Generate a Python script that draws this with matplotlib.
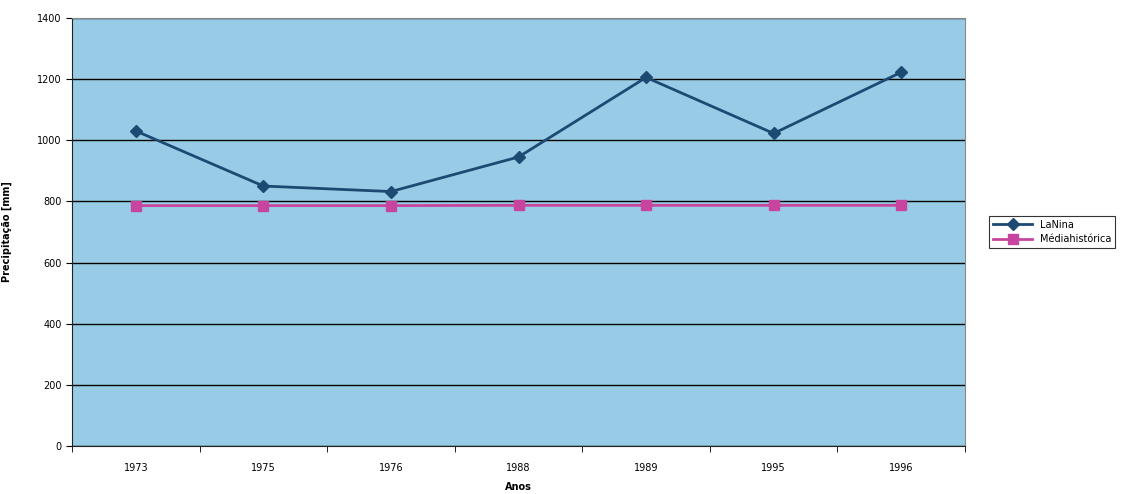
import matplotlib.pyplot as plt
import numpy as np

years = ['1973', '1975', '1976', '1988', '1989', '1995', '1996']
la_nina = [1030, 850, 832, 945, 1205, 1022, 1222]
media = [786, 786, 786, 787, 787, 787, 787]
yticks = [0, 200, 400, 600, 800, 1000, 1200, 1400]

fig = plt.figure(figsize=(11.26, 4.94), dpi=100)
ax = fig.add_axes([0.064, 0.097, 0.793, 0.867])
ax.set_facecolor('#98cce6')

x = np.arange(len(years))
ax.plot(x, la_nina, color='#1d4a72', lw=2, marker='D', ms=6.5, label='LaNina')
ax.plot(x, media, color='#c8459f', lw=2, marker='s', ms=6.5, label='Médiahistórica')

ax.set_xlim(-0.5, len(years) - 0.5)
ax.set_ylim(0, 1400)
ax.set_yticks(yticks)
ax.set_xticks(x)
ax.set_xticklabels(years, fontsize=7)
ax.tick_params(axis='x', length=0, pad=12)
ax.set_xticks(np.arange(-0.5, len(years)), minor=True)
ax.tick_params(axis='x', which='minor', length=4, direction='out')
ax.tick_params(axis='y', labelsize=7, length=4)
ax.yaxis.grid(True, color='black', lw=1)
ax.set_axisbelow(True)

for side in ['top', 'right']:
    ax.spines[side].set_color('#888888')
for side in ['left', 'bottom']:
    ax.spines[side].set_color('#222222')

ax.set_ylabel('Precipitação [mm]', fontsize=7, fontweight='bold', labelpad=18)
ax.set_xlabel('Anos', fontsize=7, fontweight='bold', labelpad=7)

leg = ax.legend(loc='center left', bbox_to_anchor=(1.022, 0.5), fontsize=7,
                frameon=True, fancybox=False, edgecolor='black', handlelength=4,
                borderpad=0.4, labelspacing=0.5)
leg.get_frame().set_linewidth(0.8)

fig.savefig('out.png', dpi=100)
